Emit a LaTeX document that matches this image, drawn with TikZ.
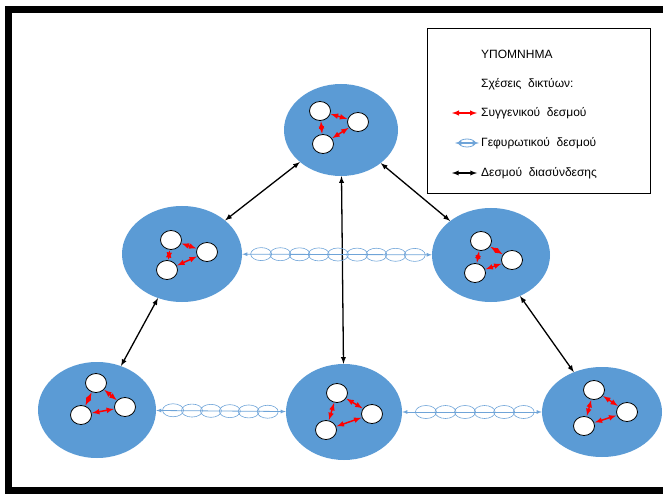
\documentclass[tikz,border=0pt]{standalone}
\usepackage{fontspec}
\setmainfont{Liberation Sans}
\usetikzlibrary{shapes.geometric,calc}
\definecolor{netblue}{HTML}{5B9BD5}
\definecolor{chainblue}{HTML}{6FA4D8}

\begin{document}
\begin{tikzpicture}[x=1pt, y=-1pt, >=latex]
\tikzstyle{group}=[ellipse, fill=netblue, inner sep=0pt]
\tikzstyle{member}=[ellipse, draw, fill=white, line width=0.8pt, minimum width=21pt, minimum height=19pt, inner sep=0pt]
\tikzstyle{kin}=[<->, red, line width=1.5pt]
\tikzstyle{link}=[<->, line width=1.3pt]
\tikzstyle{bridge}=[<->, chainblue, line width=0.8pt]
\tikzstyle{note}=[anchor=west, inner sep=0pt, font=\fontsize{12}{14}\selectfont]
\useasboundingbox (0,0) rectangle (663,494);
\draw[line width=7pt] (8.5,10) rectangle (680,490);

\foreach \n/\x/\y/\w/\h/\ax/\ay/\bx/\by/\cx/\cy in {
top/341/130/114/92/-21/-19/17/-8/-18/14,
ml/182/254/120/96/-11/-14/25/-2/-15/16,
mr/491/255/118/94/-10/-14/21/5/-16/18,
bl/97/410/118/96/-1/-27/28/-3/-16/5,
bm/344/412/116/96/-7/-19/28/2/-18/18,
br/602/412/120/90/-8/-22/25/0/-18/14}
{
\path (\x,\y) node[group, minimum width=\w pt, minimum height=\h pt] (\n) {};
\path (\n) ++(\ax,\ay) node[member] (\n1) {};
\path (\n) ++(\bx,\by) node[member] (\n2) {};
\path (\n) ++(\cx,\cy) node[member] (\n3) {};
\draw[kin, shorten <=0.5pt, shorten >=0.5pt]
(\n1) edge (\n2) (\n2) edge (\n3) (\n3) edge (\n1);
}

\draw[link] (top) -- (ml);
\draw[link] (top) -- (mr);
\draw[link] (top) -- (bm);
\draw[link] (ml) -- (bl);
\draw[link] (mr) -- (br);

\foreach \p/\q/\k/\s/\e in {ml/mr/9/0.1/0.91, bl/bm/6/0.13/0.86, bm/br/6/0.17/0.87}
{
\draw[bridge] (\p) -- (\q);
\foreach \i in {1,...,\k}
{
\pgfmathsetmacro\f{\s+(\e-\s)*(\i-1)/(\k-1)}
\draw[chainblue, line width=0.6pt] ($(\p.east)!\f!(\q.west)$) ellipse (10.5 and 6.5);
}
}

\node[draw, line width=0.6pt, minimum width=223pt, minimum height=165pt, inner sep=0pt] (legend) at (538.5,110.5) {};
\node[note] (title) at (481,54) {ΥΠΟΜΝΗΜΑ};
\node[note] (types) at (481,84) {Σχέσεις\ \ δικτύων:};
\node[note] (kintext) at (481,113) {Συγγενικού\ \ δεσμού};
\node[note] (bridgetext) at (481,143) {Γεφυρωτικού\ \ δεσμού};
\node[note] (linktext) at (481,173) {Δεσμού\ \ διασύνδεσης};
\coordinate (k1) at (452,113);
\coordinate (k2) at (477,113);
\coordinate (b1) at (455,143);
\coordinate (b2) at (479,143);
\coordinate (l1) at (452,173);
\coordinate (l2) at (477,173);
\draw[kin, line width=1.4pt] (k1) -- (k2);
\draw[bridge, line width=1.2pt] (b1) -- (b2);
\draw[chainblue, line width=0.8pt] ($(b1)!0.5!(b2)$) ellipse (8 and 4);
\draw[link] (l1) -- (l2);
\end{tikzpicture}
\end{document}
